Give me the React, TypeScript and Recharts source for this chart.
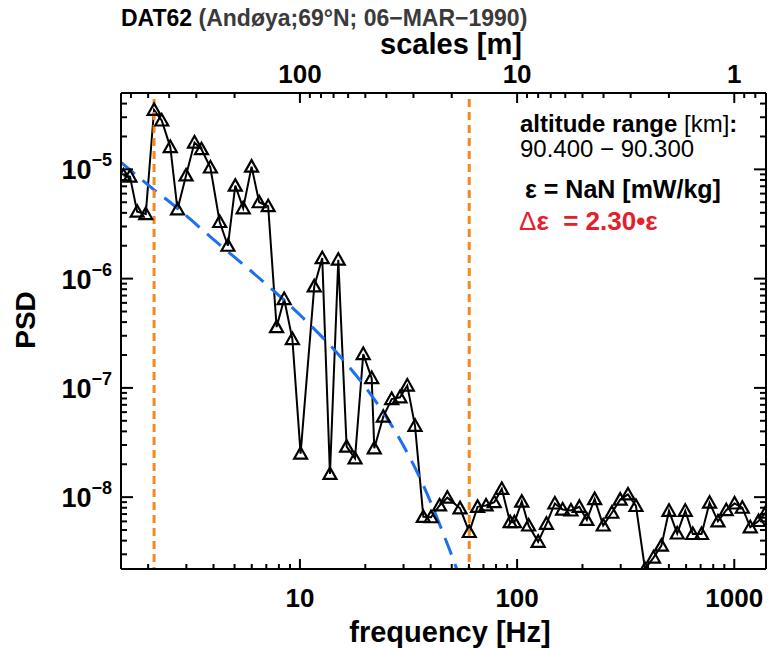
import React from "react";
import { ComposedChart, Line, XAxis, YAxis } from "recharts";

// spectrum (frequency in Hz, PSD)
const freqHz = [
  1.54, 1.65, 1.78, 1.95, 2.13, 2.31, 2.53, 2.73, 2.99, 3.27,
  3.52, 3.87, 4.27, 4.66, 5.04, 5.48, 5.99, 6.49, 7.14, 7.81,
  8.46, 9.23, 10.07, 11.64, 12.67, 13.75, 15.02, 16.41, 17.93, 19.57,
  21.4, 22.0, 24.2, 26.46, 28.89, 31.22, 33.88, 37.01, 40.16, 43.95,
  47.74, 54.62, 60.21, 65.77, 71.96, 78.52, 85.03, 92.83, 97.2, 105.1,
  113.0, 125.0, 136.5, 149.2, 162.1, 177.0, 193.5, 209.5, 227.6, 249.1,
  273.2, 298.4, 324.0, 352.7, 388.1, 424.8, 461.9, 500.6, 546.2, 594.7,
  643.9, 707.0, 769.6, 841.3, 918.6, 1003, 1089, 1185, 1294, 1394,
];
const psd = [
  8.8e-6, 8.6e-6, 4.1e-6, 3.9e-6, 3.5e-5, 2.8e-5, 1.6e-5, 4.3e-6, 8.8e-6, 1.76e-5,
  1.53e-5, 1.04e-5, 3.3e-6, 2.0e-6, 7.1e-6, 4.4e-6, 1.06e-5, 5.0e-6, 4.6e-6, 3.6e-7,
  6.5e-7, 2.8e-7, 2.5e-8, 8.5e-7, 1.54e-6, 1.63e-8, 1.49e-6, 2.9e-8, 2.26e-8, 2.04e-7,
  1.23e-7, 2.8e-8, 5.45e-8, 7.9e-8, 8.2e-8, 1.05e-7, 4.5e-8, 6.6e-9, 6.55e-9, 8.4e-9,
  9.9e-9, 7.9e-9, 4.8e-9, 8.15e-9, 8.4e-9, 9.0e-9, 1.19e-8, 5.9e-9, 5.9e-9, 9.1e-9,
  5.5e-9, 3.9e-9, 5.7e-9, 8.75e-9, 7.7e-9, 7.55e-9, 8.15e-9, 6.2e-9, 9.6e-9, 5.5e-9,
  7.2e-9, 9.5e-9, 1.06e-8, 8.3e-9, 2.2e-9, 2.8e-9, 3.6e-9, 7.5e-9, 4.65e-9, 7.5e-9,
  4.6e-9, 4.6e-9, 8.9e-9, 6.0e-9, 7.6e-9, 8.75e-9, 8.0e-9, 5.3e-9, 6.05e-9, 7.2e-9,
];

// fitted model spectrum (blue dashed)
const modelFreqHz = [1.5, 2.07, 2.66, 3.92, 6.9, 10.18, 15.57, 21.02, 28.89, 35.7, 45.8, 52.7, 55];
const modelPsd = [1.16e-5, 6.8e-6, 4.6e-6, 2.36e-6, 9.1e-7, 4.5e-7, 1.87e-7, 8.9e-8, 3.37e-8, 1.5e-8, 4.6e-9, 2.2e-9, 1.7e-9];

// fit range limits (orange dashed)
const cutoffFreqHz = [2.13, 60.2];
const cutoffTopPsd = 4.4e-5;

const xDomain: [number, number] = [1.5, 1400];
const yDomain: [number, number] = [2.2e-9, 5e-5];

const freqTicks = [
  2, 3, 4, 5, 6, 7, 8, 9, 10,
  20, 30, 40, 50, 60, 70, 80, 90, 100,
  200, 300, 400, 500, 600, 700, 800, 900, 1000,
];
const scaleTicksM = [
  600, 500, 400, 300, 200, 100, 90, 80, 70, 60, 50, 40, 30, 20,
  10, 9, 8, 7, 6, 5, 4, 3, 2, 1, 0.9, 0.8,
];
const psdTicks = [
  3e-9, 4e-9, 5e-9, 6e-9, 7e-9, 8e-9, 9e-9,
  1e-8, 2e-8, 3e-8, 4e-8, 5e-8, 6e-8, 7e-8, 8e-8, 9e-8,
  1e-7, 2e-7, 3e-7, 4e-7, 5e-7, 6e-7, 7e-7, 8e-7, 9e-7,
  1e-6, 2e-6, 3e-6, 4e-6, 5e-6, 6e-6, 7e-6, 8e-6, 9e-6,
  1e-5, 2e-5, 3e-5, 4e-5, 5e-5,
];

// scale [m] = rocket speed / frequency
const rocketSpeed = 1000;

const psdData = freqHz.map((f, i) => ({ f, p: psd[i] }));
const modelData = modelFreqHz.map((f, i) => ({ f, p: modelPsd[i] }));
const cutoffData = cutoffFreqHz.map((f) => [
  { f, p: cutoffTopPsd },
  { f, p: yDomain[0] },
]);

const font = "'Liberation Sans', Arial, Helvetica, sans-serif";
const isDecade = (v: number) =>
  Math.abs(Math.log10(v) - Math.round(Math.log10(v))) < 1e-6;

function BottomTick({ x, y, payload }: any) {
  const v = payload.value;
  const major = isDecade(v);
  return (
    <g>
      <line x1={x} x2={x} y1={y} y2={y - (major ? 10 : 5)} stroke="#000" strokeWidth={2} />
      {major && (
        <text x={x} y={y + 38} textAnchor="middle" fontSize={26} fontWeight="bold" fontFamily={font} fill="#000">
          {v}
        </text>
      )}
    </g>
  );
}

function TopTick({ x, y, payload }: any) {
  const m = rocketSpeed / payload.value;
  const major = isDecade(m);
  return (
    <g>
      <line x1={x} x2={x} y1={y} y2={y + (major ? 10 : 5)} stroke="#000" strokeWidth={2} />
      {major && (
        <text x={x} y={y - 10} textAnchor="middle" fontSize={26} fontWeight="bold" fontFamily={font} fill="#000">
          {Math.round(m)}
        </text>
      )}
    </g>
  );
}

function LeftTick({ x, y, payload }: any) {
  const v = payload.value;
  const major = isDecade(v);
  const exp = Math.round(Math.log10(v));
  return (
    <g>
      <line x1={x} x2={x + (major ? 12 : 6)} y1={y} y2={y} stroke="#000" strokeWidth={2} />
      {major && (
        <text x={x - 9} y={y + 10} textAnchor="end" fontSize={27} fontWeight="bold" fontFamily={font} fill="#000">
          <tspan>10</tspan>
          <tspan dy={-13} fontSize={18}>{`\u2212${-exp}`}</tspan>
        </text>
      )}
    </g>
  );
}

function RightTick({ x, y, payload }: any) {
  const major = isDecade(payload.value);
  return <line x1={x} x2={x - (major ? 12 : 6)} y1={y} y2={y} stroke="#000" strokeWidth={2} />;
}

function Triangle(props: any) {
  const { cx, cy, index } = props;
  if (cx == null || cy == null) return <g key={`t${index}`} />;
  return (
    <polygon
      key={`t${index}`}
      points={`${cx - 6.5},${cy + 5} ${cx},${cy - 6.5} ${cx + 6.5},${cy + 5}`}
      fill="none"
      stroke="#000"
      strokeWidth={2.2}
    />
  );
}

export default function App() {
  const axisLine = { stroke: "#000", strokeWidth: 2 };
  return (
    <div style={{ position: "absolute", left: 0, top: 0, width: 772, height: 648, background: "#fff" }}>
      <ComposedChart width={772} height={648} margin={{ top: 0, right: 0, bottom: 0, left: 0 }}>
        <XAxis
          xAxisId="bottom"
          dataKey="f"
          type="number"
          scale="log"
          domain={xDomain}
          allowDataOverflow
          ticks={freqTicks}
          interval={0}
          tick={<BottomTick />}
          tickLine={false}
          tickSize={0}
          tickMargin={0}
          axisLine={axisLine}
          height={79}
          orientation="bottom"
        />
        <XAxis
          xAxisId="top"
          dataKey="f"
          type="number"
          scale="log"
          domain={xDomain}
          allowDataOverflow
          ticks={scaleTicksM.map((m) => rocketSpeed / m)}
          interval={0}
          tick={<TopTick />}
          tickLine={false}
          tickSize={0}
          tickMargin={0}
          axisLine={axisLine}
          height={93}
          orientation="top"
        />
        <YAxis
          yAxisId="left"
          type="number"
          scale="log"
          domain={yDomain}
          allowDataOverflow
          ticks={psdTicks}
          interval={0}
          tick={<LeftTick />}
          tickLine={false}
          tickSize={0}
          tickMargin={0}
          axisLine={axisLine}
          width={121}
          orientation="left"
        />
        <YAxis
          yAxisId="right"
          type="number"
          scale="log"
          domain={yDomain}
          allowDataOverflow
          ticks={psdTicks}
          interval={0}
          tick={<RightTick />}
          tickLine={false}
          tickSize={0}
          tickMargin={0}
          axisLine={axisLine}
          width={6}
          orientation="right"
        />
        <Line
          xAxisId="bottom"
          yAxisId="left"
          data={psdData}
          dataKey="p"
          type="linear"
          stroke="#000"
          strokeWidth={2}
          dot={Triangle}
          activeDot={false}
          isAnimationActive={false}
        />
        <Line
          xAxisId="bottom"
          yAxisId="right"
          data={modelData}
          dataKey="p"
          type="monotone"
          stroke="#1e6ff0"
          strokeWidth={3}
          strokeDasharray="18 10"
          dot={false}
          activeDot={false}
          isAnimationActive={false}
        />
        {cutoffData.map((d, i) => (
          <Line
            key={`cut${i}`}
            xAxisId="top"
            yAxisId="left"
            data={d}
            dataKey="p"
            type="linear"
            stroke="#f5891e"
            strokeWidth={3}
            strokeDasharray="8 5"
            dot={false}
            activeDot={false}
            isAnimationActive={false}
          />
        ))}
      </ComposedChart>
      <svg
        width={772}
        height={648}
        style={{ position: "absolute", left: 0, top: 0, pointerEvents: "none" }}
        fontFamily={font}
      >
        <text x={121} y={26} fontSize={23} fontWeight="bold">
          <tspan fill="#000">DAT62 </tspan>
          <tspan fill="#3a3a3a">(Andøya;69°N; 06−MAR−1990)</tspan>
        </text>
        <text x={451} y={54} fontSize={29} fontWeight="bold" textAnchor="middle">
          scales [m]
        </text>
        <text x={450} y={642} fontSize={29} fontWeight="bold" textAnchor="middle">
          frequency [Hz]
        </text>
        <text transform="translate(35,320) rotate(-90)" fontSize={28} fontWeight="bold" textAnchor="middle">
          PSD
        </text>
        <text x={520} y={132} fontSize={24}>
          <tspan fontWeight="bold">altitude range </tspan>
          <tspan>[km]</tspan>
          <tspan fontWeight="bold">:</tspan>
        </text>
        <text x={520} y={157} fontSize={24}>
          90.400 − 90.300
        </text>
        <text x={525} y={198} fontSize={25} fontWeight="bold">
          ε = NaN [mW/kg]
        </text>
        <text x={519} y={230} fontSize={26} fill="#e6202a" style={{ whiteSpace: "pre" }}>
          <tspan>Δ</tspan>
          <tspan fontWeight="bold">ε  = 2.30•ε</tspan>
        </text>
      </svg>
    </div>
  );
}
